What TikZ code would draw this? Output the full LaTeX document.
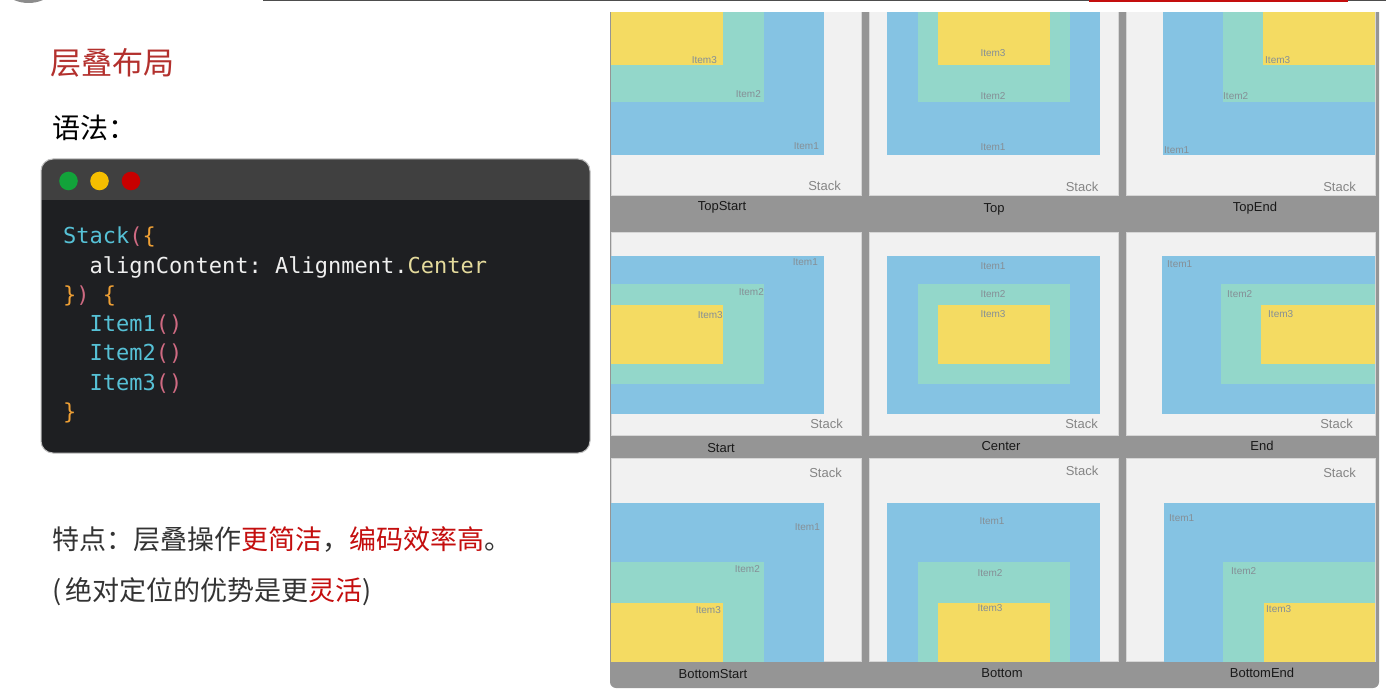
\documentclass[tikz,border=0pt]{standalone}
\usepackage{fontspec}
\setmainfont{Liberation Sans}
\setmonofont{DejaVu Sans Mono}
\newfontfamily\cjk{Noto Sans CJK SC}

\definecolor{titlered}{HTML}{B3302D}
\definecolor{hotred}{HTML}{C40E0E}
\definecolor{bodytext}{HTML}{333333}
\definecolor{rulegray}{HTML}{4D4D4D}
\definecolor{gridbg}{HTML}{959595}
\definecolor{panelbg}{HTML}{F1F1F1}
\definecolor{panelline}{HTML}{D6D6D6}
\definecolor{itemblue}{HTML}{85C3E3}
\definecolor{itemteal}{HTML}{93D7CA}
\definecolor{itemyellow}{HTML}{F4DB62}
\definecolor{itemgray}{HTML}{858F96}
\definecolor{stackgray}{HTML}{858585}
\definecolor{codebg}{HTML}{1E1F22}
\definecolor{codebar}{HTML}{404040}
\definecolor{codewhite}{HTML}{EFEFEF}
\definecolor{codecyan}{HTML}{56C1D6}
\definecolor{codepink}{HTML}{CF6A82}
\definecolor{codeorange}{HTML}{EFA035}
\definecolor{codeyellow}{HTML}{E4DA9C}
\definecolor{dotgreen}{HTML}{12A33A}
\definecolor{dotyellow}{HTML}{F5BE00}
\definecolor{dotred}{HTML}{C80000}

\newcommand{\cC}[1]{\textcolor{codecyan}{#1}}
\newcommand{\cP}[1]{\textcolor{codepink}{#1}}
\newcommand{\cO}[1]{\textcolor{codeorange}{#1}}
\newcommand{\cY}[1]{\textcolor{codeyellow}{#1}}

\tikzset{
  panel/.style={fill=panelbg, draw=panelline, line width=0.8pt},
  itemA/.style={fill=itemblue},
  itemB/.style={fill=itemteal},
  itemC/.style={fill=itemyellow},
  itemtxt/.style={font=\fontsize{10}{12}\selectfont, text=itemgray, inner sep=0pt},
  stacktxt/.style={font=\fontsize{13}{15}\selectfont, text=stackgray, inner sep=0pt, anchor=east},
  celltxt/.style={font=\fontsize{13}{15}\selectfont, text=black!90, inner sep=0pt},
  codeln/.style={font=\ttfamily\fontsize{22}{26}\selectfont, text=codewhite, inner sep=0pt, anchor=base west},
  cntext/.style={font=\cjk\fontsize{27}{32}\selectfont, text=bodytext, inner sep=0pt, anchor=west}
}

\begin{document}
\begin{tikzpicture}[x=1pt,y=-1pt]
	\useasboundingbox (0,0) rectangle (1386,692);
	\fill[white] (0,0) rectangle (1386,692);
	% top rule and logo edge
	\begin{scope}
		\clip (0,0) rectangle (1386,692);
		\fill[black!45] (28.5,-33.5) circle(36.5);
	\end{scope}
	\fill[rulegray] (263,0) rectangle (1386,1.5);
	\fill[hotred] (1089,0) rectangle (1348,2);

	% left texts
	\node[cntext, font=\cjk\fontsize{31}{36}\selectfont, text=titlered] (title) at (50,63) {层叠布局};
	\node[cntext, font=\cjk\fontsize{28}{32}\selectfont, text=black] (syntax) at (52,128) {语法：};
	\node[cntext] (feature) at (52,540) {特点：层叠操作\textcolor{hotred}{更简洁}，\textcolor{hotred}{编码效率高}。};
	\node[cntext] (remark) at (52,592) {(\hspace{0.15em}绝对定位的优势是更\textcolor{hotred}{灵活})};

	% code window
	\fill[codebg, rounded corners=12] (41,159) rectangle (590,453);
	\begin{scope}
		\clip[rounded corners=12] (41,159) rectangle (590,453);
		\fill[codebar] (41,159) rectangle (590,200);
	\end{scope}
	\draw[black!25, line width=1pt, rounded corners=12] (41,159) rectangle (590,453);
	\fill[dotgreen] (68.5,181) circle(9.3);
	\fill[dotyellow] (99.5,181) circle(9.3);
	\fill[dotred] (131,181) circle(9.3);
	\node[codeln] (c1) at (63,244) {\cC{Stack}\cP{(}\cO{\{}};
	\node[codeln] (c2) at (89.5,273.2) {alignContent: Alignment.\cY{Center}};
	\node[codeln] (c3) at (63,302.4) {\cO{\}}\cP{)} \cO{\{}};
	\node[codeln] (c4) at (89.5,331.6) {\cC{Item1}\cP{()}};
	\node[codeln] (c5) at (89.5,360.8) {\cC{Item2}\cP{()}};
	\node[codeln] (c6) at (89.5,390) {\cC{Item3}\cP{()}};
	\node[codeln] (c7) at (63,419.2) {\cO{\}}};

	% alignment grid
	\begin{scope}
		\clip (610,13) rectangle (1386,692);
		\fill[gridbg, rounded corners=6] (610,0) rectangle (1379,688);

		% TopStart
		\draw[panel] (611,-8) rectangle (861.5,195.5);
		\fill[itemA] (611,-2) rectangle (823.5,155.5);
		\fill[itemB] (611,-2) rectangle (764,102);
		\fill[itemC] (611,-2) rectangle (723,65);
		\node[itemtxt, anchor=east] (ts1) at (819,146) {Item1};
		\node[itemtxt, anchor=east] (ts2) at (761,94) {Item2};
		\node[itemtxt, anchor=east] (ts3) at (717,60) {Item3};
		\node[stacktxt] (tss) at (841,186) {Stack};
		\node[celltxt] (tsn) at (722,207) {TopStart};

		% Top
		\draw[panel] (869,-8) rectangle (1118,195.5);
		\fill[itemA] (887,-2) rectangle (1099.5,155.5);
		\fill[itemB] (917.5,-2) rectangle (1069.5,102);
		\fill[itemC] (937.5,-2) rectangle (1049.5,65);
		\node[itemtxt] (tp1) at (993,147) {Item1};
		\node[itemtxt] (tp2) at (993,96) {Item2};
		\node[itemtxt] (tp3) at (993,53) {Item3};
		\node[stacktxt] (tps) at (1098.5,187) {Stack};
		\node[celltxt] (tpn) at (994,209) {Top};

		% TopEnd
		\draw[panel] (1126,-8) rectangle (1375,195.5);
		\fill[itemA] (1163,-2) rectangle (1375,155.5);
		\fill[itemB] (1222.5,-2) rectangle (1375,102);
		\fill[itemC] (1263,-2) rectangle (1375,65);
		\node[itemtxt, anchor=west] (te1) at (1164,150) {Item1};
		\node[itemtxt, anchor=west] (te2) at (1223,96) {Item2};
		\node[itemtxt, anchor=west] (te3) at (1265,60.5) {Item3};
		\node[stacktxt] (tes) at (1356,187) {Stack};
		\node[celltxt] (ten) at (1255,208) {TopEnd};

		% Start
		\draw[panel] (611,232.3) rectangle (861.5,435.5);
		\fill[itemA] (611,256) rectangle (823.5,413.5);
		\fill[itemB] (611,284.5) rectangle (764,383.5);
		\fill[itemC] (611,305) rectangle (723,363.5);
		\node[itemtxt, anchor=east] (st1) at (818,262) {Item1};
		\node[itemtxt, anchor=east] (st2) at (764,292) {Item2};
		\node[itemtxt, anchor=east] (st3) at (723,315) {Item3};
		\node[stacktxt] (sts) at (843,424) {Stack};
		\node[celltxt] (stn) at (721,448) {Start};

		% Center
		\draw[panel] (869,232.3) rectangle (1118,435.5);
		\fill[itemA] (887,256) rectangle (1099.5,413.5);
		\fill[itemB] (917.5,284.5) rectangle (1069.5,383.5);
		\fill[itemC] (937.5,305) rectangle (1049.5,363.5);
		\node[itemtxt] (ce1) at (993,266) {Item1};
		\node[itemtxt] (ce2) at (993,294) {Item2};
		\node[itemtxt] (ce3) at (993,314) {Item3};
		\node[stacktxt] (ces) at (1098,424) {Stack};
		\node[celltxt] (cen) at (1001,446) {Center};

		% End
		\draw[panel] (1126,232.3) rectangle (1375,435.5);
		\fill[itemA] (1162,256) rectangle (1375,413.5);
		\fill[itemB] (1221,284.5) rectangle (1375,383.5);
		\fill[itemC] (1261,305) rectangle (1375,363.5);
		\node[itemtxt, anchor=west] (en1) at (1167,264) {Item1};
		\node[itemtxt, anchor=west] (en2) at (1227,294) {Item2};
		\node[itemtxt, anchor=west] (en3) at (1268,314) {Item3};
		\node[stacktxt] (ens) at (1353,424) {Stack};
		\node[celltxt] (enn) at (1262,446) {End};

		% BottomStart
		\draw[panel] (611,458.3) rectangle (861.5,661.7);
		\fill[itemA] (611,503) rectangle (823.5,661.7);
		\fill[itemB] (611,561.5) rectangle (764,661.7);
		\fill[itemC] (611,602.5) rectangle (723,661.7);
		\node[itemtxt, anchor=east] (bs1) at (820,527) {Item1};
		\node[itemtxt, anchor=east] (bs2) at (760,569) {Item2};
		\node[itemtxt, anchor=east] (bs3) at (721,610) {Item3};
		\node[stacktxt] (bss) at (842,473) {Stack};
		\node[celltxt] (bsn) at (713,674) {BottomStart};

		% Bottom
		\draw[panel] (869,458.3) rectangle (1118,661.7);
		\fill[itemA] (887,503) rectangle (1099.5,661.7);
		\fill[itemB] (917.5,561.5) rectangle (1069.5,661.7);
		\fill[itemC] (937.5,602.5) rectangle (1049.5,661.7);
		\node[itemtxt] (bo1) at (992,521) {Item1};
		\node[itemtxt] (bo2) at (990,573) {Item2};
		\node[itemtxt] (bo3) at (990,608) {Item3};
		\node[stacktxt] (bos) at (1098.5,471) {Stack};
		\node[celltxt] (bon) at (1002,673) {Bottom};

		% BottomEnd
		\draw[panel] (1126,458.3) rectangle (1375,661.7);
		\fill[itemA] (1163.5,503) rectangle (1375,661.7);
		\fill[itemB] (1222.5,561.5) rectangle (1375,661.7);
		\fill[itemC] (1263.5,602.5) rectangle (1375,661.7);
		\node[itemtxt, anchor=west] (be1) at (1169,518) {Item1};
		\node[itemtxt, anchor=west] (be2) at (1231,571) {Item2};
		\node[itemtxt, anchor=west] (be3) at (1266,609) {Item3};
		\node[stacktxt] (bes) at (1356,473) {Stack};
		\node[celltxt] (ben) at (1262,673) {BottomEnd};
	\end{scope}
\end{tikzpicture}
\end{document}
